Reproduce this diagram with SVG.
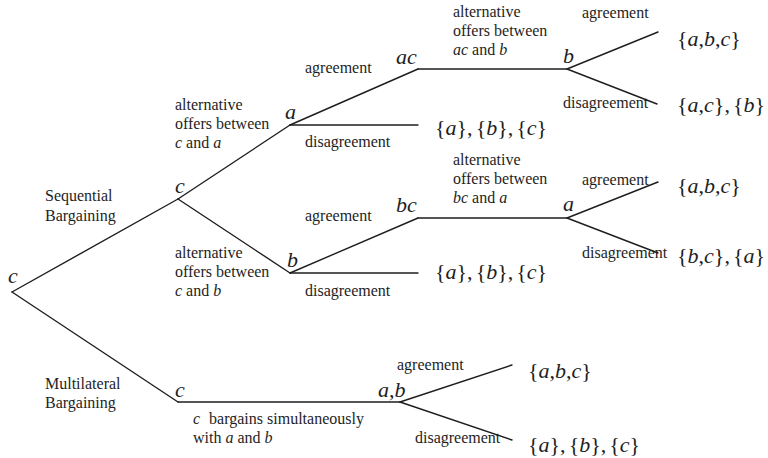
<svg xmlns="http://www.w3.org/2000/svg" width="768" height="458" viewBox="0 0 768 458">
<style>
.e{stroke:#1e1e1e;stroke-width:1.4;fill:none;stroke-linecap:round}
text{font-family:'Liberation Serif','DejaVu Serif',serif;fill:#1e1e1e}
.n{font-style:italic;font-size:22px}
.s{font-size:22px}
.i{font-style:italic}
.l{font-size:16px}
</style>
<rect width="768" height="458" fill="#fff"/>
<g id="connectors">
<line class="e" x1="12" y1="292" x2="178" y2="199"/>
<line class="e" x1="178" y1="199" x2="290" y2="125"/>
<line class="e" x1="290" y1="125" x2="418" y2="69"/>
<line class="e" x1="418" y1="69" x2="567" y2="69"/>
<line class="e" x1="567" y1="69" x2="658" y2="32"/>
<line class="e" x1="567" y1="69" x2="657" y2="104"/>
<line class="e" x1="290" y1="125" x2="418" y2="125"/>
<line class="e" x1="178" y1="199" x2="290" y2="273"/>
<line class="e" x1="290" y1="273" x2="418" y2="218"/>
<line class="e" x1="418" y1="218" x2="567" y2="218"/>
<line class="e" x1="567" y1="218" x2="658" y2="182"/>
<line class="e" x1="567" y1="218" x2="658" y2="253"/>
<line class="e" x1="290" y1="273" x2="418" y2="273"/>
<line class="e" x1="12" y1="292" x2="178" y2="402"/>
<line class="e" x1="178" y1="402" x2="400" y2="402"/>
<line class="e" x1="400" y1="402" x2="512" y2="365"/>
<line class="e" x1="400" y1="402" x2="512" y2="440"/>
</g>
<g id="edge-labels">
<text class="l" x="45" y="201">Sequential</text>
<text class="l" x="45" y="221">Bargaining</text>
<text class="l" x="175" y="110">alternative</text>
<text class="l" x="175" y="129">offers between</text>
<text class="l" x="175" y="148"><tspan class="i">c</tspan> and <tspan class="i">a</tspan></text>
<text class="l" x="305" y="73">agreement</text>
<text class="l" x="305" y="147">disagreement</text>
<text class="l" x="453" y="17">alternative</text>
<text class="l" x="453" y="36">offers between</text>
<text class="l" x="453" y="55"><tspan class="i">ac</tspan> and <tspan class="i">b</tspan></text>
<text class="l" x="582" y="18">agreement</text>
<text class="l" x="563" y="108">disagreement</text>
<text class="l" x="175" y="258">alternative</text>
<text class="l" x="175" y="277">offers between</text>
<text class="l" x="175" y="296"><tspan class="i">c</tspan> and <tspan class="i">b</tspan></text>
<text class="l" x="305" y="221">agreement</text>
<text class="l" x="305" y="296">disagreement</text>
<text class="l" x="453" y="165">alternative</text>
<text class="l" x="453" y="184">offers between</text>
<text class="l" x="453" y="203"><tspan class="i">bc</tspan> and <tspan class="i">a</tspan></text>
<text class="l" x="582" y="185">agreement</text>
<text class="l" x="582" y="258">disagreement</text>
<text class="l" x="45" y="389">Multilateral</text>
<text class="l" x="45" y="408">Bargaining</text>
<text class="l" x="397" y="370">agreement</text>
<text class="l" x="415" y="443">disagreement</text>
<text class="l" x="193" y="424"><tspan class="i">c</tspan><tspan dx="5"> bargains simultaneously</tspan></text>
<text class="l" x="193" y="443">with <tspan class="i">a</tspan> and <tspan class="i">b</tspan></text>
</g>
<g id="node-root"><text class="n" x="8" y="283">c</text></g>
<g id="node-c-seq"><text class="n" x="175" y="193">c</text></g>
<g id="node-a1"><text class="n" x="285" y="119">a</text></g>
<g id="node-ac"><text class="n" x="396" y="64">ac</text></g>
<g id="node-b1"><text class="n" x="563" y="63">b</text></g>
<g id="leaf-1"><text class="s" x="677" y="46">{<tspan class="i">a</tspan>,<tspan class="i">b</tspan>,<tspan class="i">c</tspan>}</text></g>
<g id="leaf-2"><text class="s" x="677" y="112">{<tspan class="i">a</tspan>,<tspan class="i">c</tspan>},<tspan dx="3">{</tspan><tspan class="i">b</tspan>}</text></g>
<g id="leaf-3"><text class="s" x="435" y="135">{<tspan class="i">a</tspan>},<tspan dx="3">{</tspan><tspan class="i">b</tspan>},<tspan dx="3">{</tspan><tspan class="i">c</tspan>}</text></g>
<g id="node-b2"><text class="n" x="287" y="267">b</text></g>
<g id="node-bc"><text class="n" x="396" y="212">bc</text></g>
<g id="node-a2"><text class="n" x="563" y="211">a</text></g>
<g id="leaf-4"><text class="s" x="677" y="193">{<tspan class="i">a</tspan>,<tspan class="i">b</tspan>,<tspan class="i">c</tspan>}</text></g>
<g id="leaf-5"><text class="s" x="677" y="263">{<tspan class="i">b</tspan>,<tspan class="i">c</tspan>},<tspan dx="3">{</tspan><tspan class="i">a</tspan>}</text></g>
<g id="leaf-6"><text class="s" x="435" y="279">{<tspan class="i">a</tspan>},<tspan dx="3">{</tspan><tspan class="i">b</tspan>},<tspan dx="3">{</tspan><tspan class="i">c</tspan>}</text></g>
<g id="node-c-multi"><text class="n" x="175" y="397">c</text></g>
<g id="node-ab"><text class="n" x="378" y="397">a,b</text></g>
<g id="leaf-7"><text class="s" x="528" y="378">{<tspan class="i">a</tspan>,<tspan class="i">b</tspan>,<tspan class="i">c</tspan>}</text></g>
<g id="leaf-8"><text class="s" x="528" y="452">{<tspan class="i">a</tspan>},<tspan dx="3">{</tspan><tspan class="i">b</tspan>},<tspan dx="3">{</tspan><tspan class="i">c</tspan>}</text></g>
</svg>
